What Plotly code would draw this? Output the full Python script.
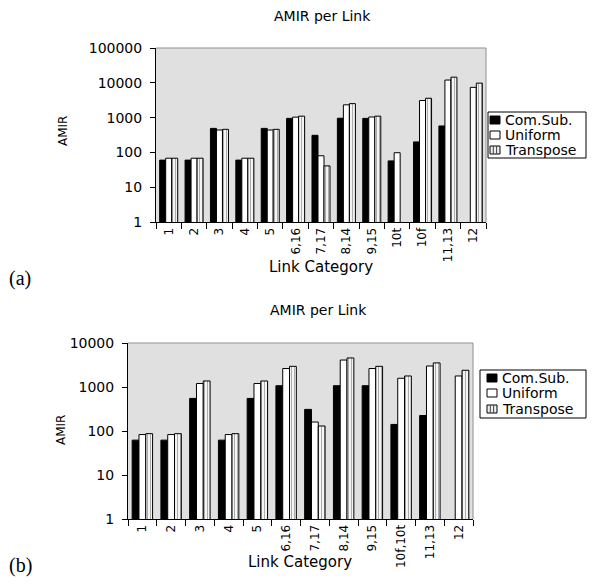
import plotly.graph_objects as go

# ---------------- data ----------------
cats_a = ["1", "2", "3", "4", "5", "6,16", "7,17", "8,14", "9,15", "10t", "10f", "11,13", "12"]
comsub_a = [60, 60, 490, 60, 490, 950, 310, 960, 950, 57, 200, 575, None]
uniform_a = [68, 68, 440, 68, 440, 1030, 80, 2330, 1040, 98, 3100, 12000, 7400]
transpose_a = [68, 68, 460, 68, 460, 1100, 41, 2520, 1100, None, 3600, 14500, 9800]

cats_b = ["1", "2", "3", "4", "5", "6,16", "7,17", "8,14", "9,15", "10f,10t", "11,13", "12"]
comsub_b = [62, 62, 550, 62, 550, 1070, 310, 1070, 1070, 141, 225, None]
uniform_b = [83, 83, 1200, 83, 1200, 2630, 160, 4100, 2630, 1580, 3000, 1780]
transpose_b = [87, 87, 1370, 87, 1370, 2950, 130, 4570, 2950, 1780, 3530, 2400]

series_names = ["Com.Sub.", "Uniform", "Transpose"]
ytick_vals_a = [1, 10, 100, 1000, 10000, 100000]
ytick_vals_b = [1, 10, 100, 1000, 10000]

# figure sized to fit inside the page body (8px default margins)
OX, OY = 8, 8
W, H = 579, 570
FONT = "DejaVu Sans"

def px_x(t):
    return (t - OX) / W

def px_y(t):
    return 1 - (t - OY) / H

fig = go.Figure()

def bar_styles():
    return [
        dict(color="black", line=dict(color="black", width=1)),
        dict(color="white", line=dict(color="black", width=1)),
        dict(color="#e6e6e6", line=dict(color="black", width=1),
             pattern=dict(shape="|", size=3, solidity=0.3, fgcolor="#555", bgcolor="#f4f4f4")),
    ]

def add_bars(cats, vals, xa, ya):
    for name, v, st in zip(series_names, vals, bar_styles()):
        fig.add_trace(go.Bar(x=cats, y=v, name=name, marker=st, xaxis=xa, yaxis=ya,
                             showlegend=False))

add_bars(cats_a, [comsub_a, uniform_a, transpose_a], "x", "y")
add_bars(cats_b, [comsub_b, uniform_b, transpose_b], "x2", "y2")

xa_common = dict(type="category", showline=True, linecolor="black", linewidth=1,
                 ticks="outside", tickson="boundaries", ticklen=6, tickcolor="black",
                 tickangle=-90, tickfont=dict(family=FONT, size=12, color="black"),
                 showgrid=False, zeroline=False, automargin=False)
ya_common = dict(type="log", showline=True, linecolor="black", linewidth=1,
                 ticks="outside", ticklen=5, tickcolor="black", tickmode="array",
                 ticklabelstandoff=5,
                 tickfont=dict(family=FONT, size=14, color="black"),
                 showgrid=False, zeroline=False, automargin=False)

fig.update_layout(
    width=W, height=H, margin=dict(l=0, r=0, t=0, b=0),
    paper_bgcolor="white", plot_bgcolor="#e0e0e0",
    barmode="group", bargap=0.29, bargroupgap=0,
    font=dict(family=FONT, size=13, color="black"),
    showlegend=False,
    xaxis=dict(xa_common, domain=[px_x(156), px_x(486)], anchor="y",
               categoryorder="array", categoryarray=cats_a),
    yaxis=dict(ya_common, domain=[px_y(222), px_y(48)], anchor="x", range=[0, 5],
               tickvals=ytick_vals_a, ticktext=[str(v) for v in ytick_vals_a]),
    xaxis2=dict(xa_common, domain=[px_x(128), px_x(473)], anchor="y2",
                categoryorder="array", categoryarray=cats_b),
    yaxis2=dict(ya_common, domain=[px_y(519), px_y(343)], anchor="x2", range=[0, 4],
                tickvals=ytick_vals_b, ticktext=[str(v) for v in ytick_vals_b]),
)

# gray top/right frame of plot areas
for xr, yr in [("x domain", "y domain"), ("x2 domain", "y2 domain")]:
    fig.add_shape(type="line", xref=xr, yref=yr, x0=0, x1=1, y0=1, y1=1,
                  line=dict(color="#909090", width=1), layer="above")
    fig.add_shape(type="line", xref=xr, yref=yr, x0=1, x1=1, y0=0, y1=1,
                  line=dict(color="#909090", width=1), layer="above")

# ---- legends (drawn as boxes + text) ----
def legend(box, rows, sym_x, text_x):
    bx0, by0, bx1, by1 = box
    fig.add_shape(type="rect", xref="paper", yref="paper",
                  x0=px_x(bx0), x1=px_x(bx1), y0=px_y(by1), y1=px_y(by0),
                  line=dict(color="black", width=1), fillcolor="white", layer="above")
    fills = ["black", "white", "#eeeeee"]
    for name, ry, fc in zip(series_names, rows, fills):
        fig.add_shape(type="rect", xref="paper", yref="paper",
                      x0=px_x(sym_x), x1=px_x(sym_x + 10), y0=px_y(ry + 4), y1=px_y(ry - 4),
                      line=dict(color="black", width=1), fillcolor=fc, layer="above")
        if name == "Transpose":
            for dx in (3.3, 6.6):
                fig.add_shape(type="line", xref="paper", yref="paper",
                              x0=px_x(sym_x + dx), x1=px_x(sym_x + dx),
                              y0=px_y(ry + 4), y1=px_y(ry - 4),
                              line=dict(color="#444", width=1), layer="above")
        fig.add_annotation(text=name, x=px_x(text_x), y=px_y(ry), xref="paper", yref="paper",
                           showarrow=False, xanchor="left", yanchor="middle",
                           font=dict(family=FONT, size=14, color="black"))

legend((488, 112, 586, 158), [120, 135, 150], 490, 503)
legend((480, 370, 586, 418), [378, 393, 409], 487, 500)

ann = [
    dict(text="AMIR per Link", x=322, y=16, size=14),
    dict(text="AMIR per Link", x=318, y=310, size=14),
    dict(text="Link Category", x=321, y=267, size=15),
    dict(text="Link Category", x=300, y=562, size=15),
]
for a in ann:
    fig.add_annotation(text=a["text"], x=px_x(a["x"]), y=px_y(a["y"]), xref="paper", yref="paper",
                       showarrow=False, xanchor="center", yanchor="middle",
                       font=dict(family=FONT, size=a["size"], color="black"))

for xx, yy in [(63, 131), (61, 430)]:
    fig.add_annotation(text="AMIR", x=px_x(xx), y=px_y(yy), xref="paper", yref="paper",
                       showarrow=False, textangle=-90, xanchor="center", yanchor="middle",
                       font=dict(family=FONT, size=12, color="black"))

# panel labels (kept inside the figure area)
fig.add_annotation(text="(a)", x=0, y=px_y(279), xref="paper", yref="paper",
                   showarrow=False, xanchor="left", yanchor="middle", borderpad=0,
                   font=dict(family="Liberation Serif", size=20, color="black"))
fig.add_annotation(text="(b)", x=0, y=0, xref="paper", yref="paper",
                   showarrow=False, xanchor="left", yanchor="bottom", borderpad=0,
                   font=dict(family="Liberation Serif", size=20, color="black"))

fig.write_html("out.html")
